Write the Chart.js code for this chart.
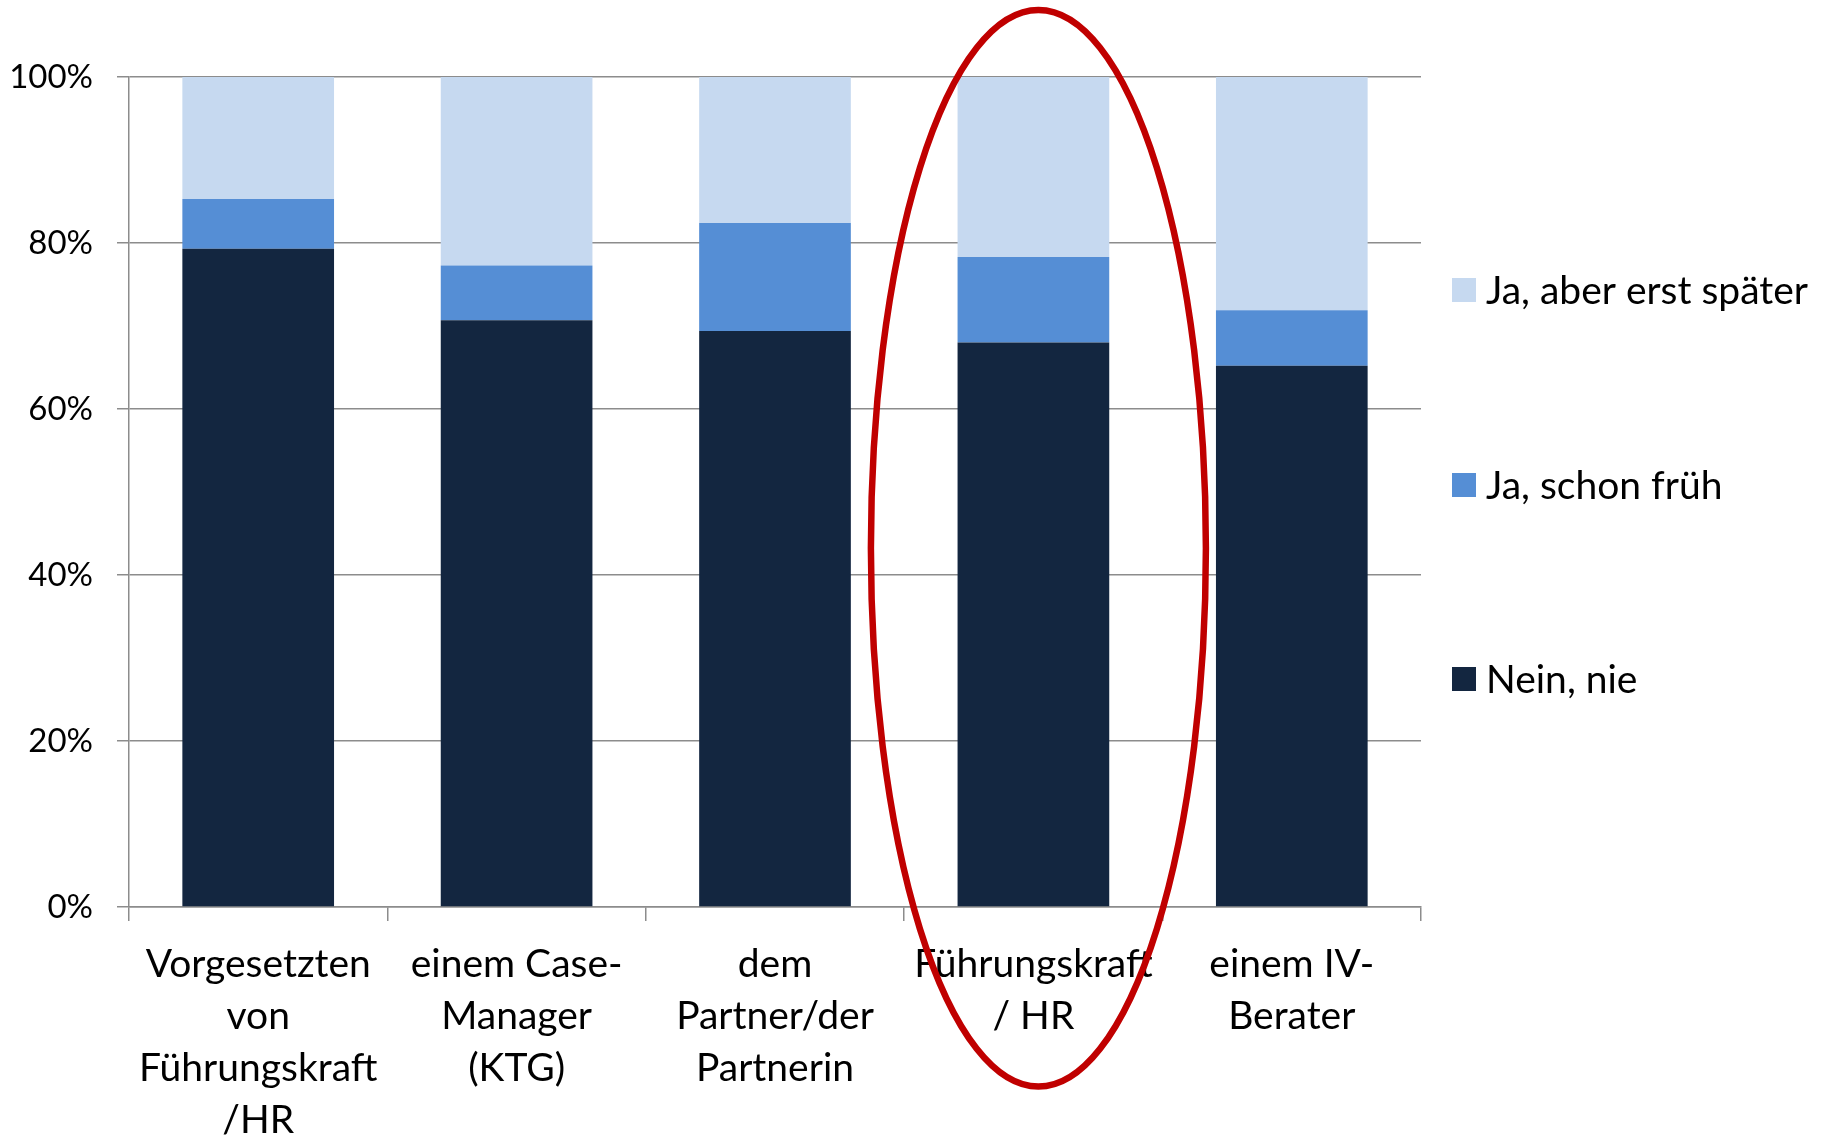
<!DOCTYPE html>
<html><head><meta charset="utf-8">
<script src="https://cdn.jsdelivr.net/npm/chart.js@4"></script>
<style>html,body{margin:0;padding:0;background:#fff}#wrap{width:1837px;height:1137px}</style>
</head><body><div id="wrap"><canvas id="c" width="1837" height="1137"></canvas></div>
<script>
const categories = [
  ["Vorgesetzten","von","Führungskraft","/HR"],
  ["einem Case-","Manager","(KTG)"],
  ["dem","Partner/der","Partnerin"],
  ["Führungskraft","/ HR"],
  ["einem IV-","Berater"]
];
const seriesNames = ["Nein, nie","Ja, schon früh","Ja, aber erst später"];
const neinNie   = [79.3, 70.7, 69.4, 68.0, 65.2];
const jaFrueh   = [6.0, 6.6, 13.0, 10.3, 6.7];
const jaSpaeter = [14.7, 22.7, 17.6, 21.7, 28.1];
const yTickLabels = ["0%","20%","40%","60%","80%","100%"];
const highlightIndex = 3;

const colors = ["#132640", "#558ED5", "#C6D9F0"];
const gridColor = "#8c8c8c";
const FONT = "Lato";

const legendPlugin = {
  id: "customLegend",
  afterDraw(chart) {
    const ctx = chart.ctx;
    const ca = chart.chartArea;
    const order = [2, 1, 0];
    const ys = [290, 485, 679];
    ctx.save();
    ctx.font = "39px " + FONT;
    ctx.textBaseline = "middle";
    ctx.textAlign = "left";
    order.forEach((di, k) => {
      const ds = chart.data.datasets[di];
      ctx.fillStyle = ds.backgroundColor;
      ctx.fillRect(ca.right + 31, ys[k] - 12, 24, 24);
      ctx.fillStyle = "#000";
      ctx.fillText(ds.label, ca.right + 65, ys[k] + 1);
    });
    ctx.restore();
  }
};

const ellipsePlugin = {
  id: "highlightEllipse",
  afterDraw(chart) {
    const ctx = chart.ctx;
    const cx = chart.scales.x.getPixelForValue(highlightIndex) + 5;
    ctx.save();
    ctx.beginPath();
    ctx.ellipse(cx, 548.3, 167.5, 538.3, 0, 0, Math.PI * 2);
    ctx.lineWidth = 6.5;
    ctx.strokeStyle = "#C00000";
    ctx.stroke();
    ctx.restore();
  }
};

const datasets = [neinNie, jaFrueh, jaSpaeter].map((d, i) => ({
  label: seriesNames[i],
  data: d,
  backgroundColor: colors[i],
  borderWidth: 0,
  categoryPercentage: 1.0,
  barPercentage: 0.587
}));

new Chart(document.getElementById("c"), {
  type: "bar",
  data: { labels: categories, datasets },
  options: {
    responsive: false,
    animation: false,
    devicePixelRatio: 1,
    layout: { padding: { top: 77, right: 416, left: 0, bottom: 0 } },
    plugins: { legend: { display: false }, tooltip: { enabled: false } },
    scales: {
      x: {
        stacked: true,
        afterFit(scale) { scale.height = 230; },
        grid: { offset: true, drawOnChartArea: false, drawTicks: true, tickLength: 14, color: gridColor, lineWidth: 1.5 },
        border: { display: true, color: gridColor, width: 1.5 },
        ticks: { color: "#000", font: { family: FONT, size: 39, lineHeight: 1.333 }, maxRotation: 0, minRotation: 0, autoSkip: false, padding: 17 }
      },
      y: {
        stacked: true,
        min: 0, max: 100,
        afterFit(scale) { scale.width = 129; },
        grid: { color: gridColor, lineWidth: 1.5, drawTicks: true, tickLength: 12 },
        border: { display: true, color: gridColor, width: 1.5 },
        ticks: {
          stepSize: 20,
          color: "#000",
          padding: 24,
          font: { family: FONT, size: 33 },
          callback: (v) => yTickLabels[Math.round(v / 20)]
        }
      }
    }
  },
  plugins: [legendPlugin, ellipsePlugin]
});
</script>
</body></html>
